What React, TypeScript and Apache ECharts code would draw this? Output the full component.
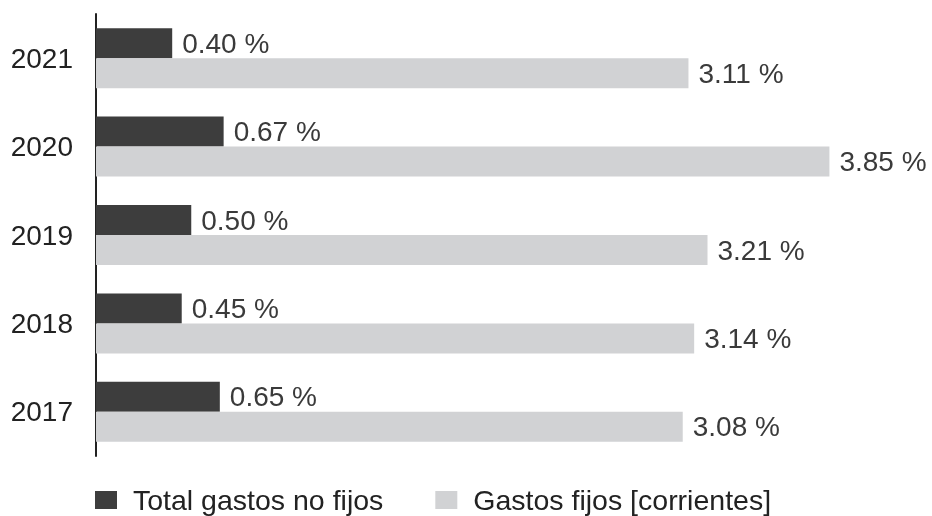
import React, { useEffect, useRef } from "react";
import * as echarts from "echarts";

const years = ["2021", "2020", "2019", "2018", "2017"];
const noFijos = [0.4, 0.67, 0.5, 0.45, 0.65];
const fijos = [3.11, 3.85, 3.21, 3.14, 3.08];
const seriesNames = ["Total gastos no fijos", "Gastos fijos [corrientes]"];

const FONT = "'Liberation Sans', Arial, Helvetica, sans-serif";

export default function App() {
  const ref = useRef<HTMLDivElement>(null);
  useEffect(() => {
    if (!ref.current) return;
    const chart = echarts.init(ref.current, undefined, { renderer: "svg" });
    const labelCfg = {
      show: true,
      position: "right",
      distance: 10,
      color: "#3a3a3a",
      fontSize: 28,
      fontFamily: FONT,
      formatter: (p: any) => p.value.toFixed(2) + " %",
    };
    chart.setOption({
      animation: false,
      grid: { left: 96, top: 14, width: 762, height: 442, containLabel: false },
      xAxis: {
        type: "value",
        min: 0,
        max: 4,
        show: false,
      },
      yAxis: {
        type: "category",
        data: years,
        inverse: true,
        axisLine: { show: true, lineStyle: { color: "#222", width: 2 } },
        axisTick: { show: false },
        axisLabel: {
          color: "#222",
          fontSize: 28,
          fontFamily: FONT,
          margin: 23,
        },
      },
      legend: {
        left: 90,
        top: 480,
        padding: 5,
        itemWidth: 22,
        itemHeight: 18,
        itemGap: 52,
        icon: "rect",
        textStyle: {
          color: "#222",
          fontSize: 28.5,
          lineHeight: 30,
          fontFamily: FONT,
          padding: [0, 0, 0, 11],
        },
        data: seriesNames,
      },
      series: [
        {
          name: seriesNames[0],
          type: "bar",
          data: noFijos,
          barWidth: 30,
          barGap: "0%",
          itemStyle: { color: "#3d3d3d" },
          label: labelCfg,
        },
        {
          name: seriesNames[1],
          type: "bar",
          data: fijos,
          barWidth: 30,
          itemStyle: { color: "#d1d2d4" },
          label: labelCfg,
        },
      ],
    });
    return () => chart.dispose();
  }, []);
  return (
    <div
      ref={ref}
      style={{ position: "fixed", left: 0, top: 0, width: 932, height: 516 }}
    />
  );
}
